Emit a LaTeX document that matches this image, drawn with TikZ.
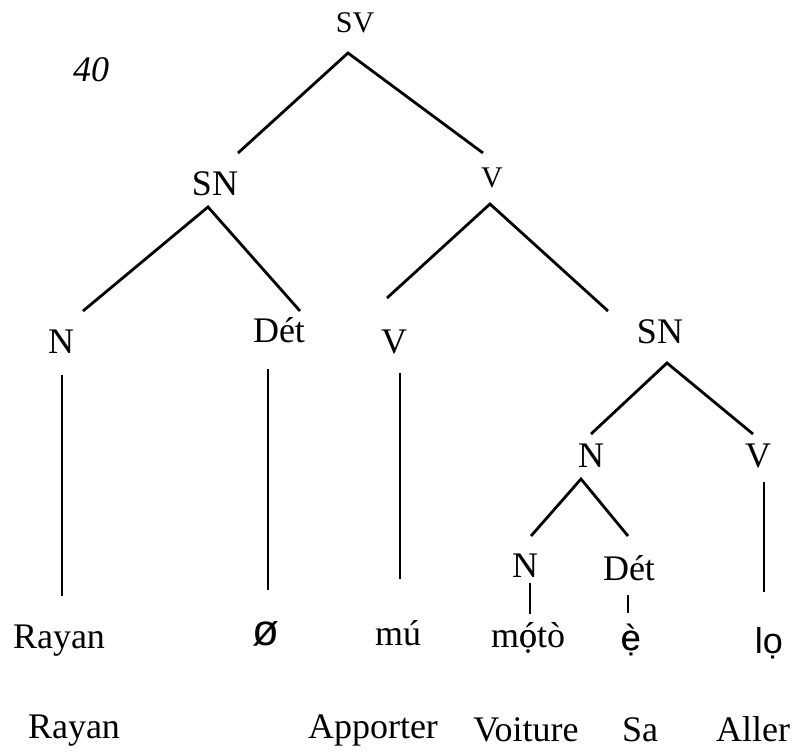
\documentclass[tikz,border=0pt]{standalone}
\usepackage{fontspec}
\setmainfont{Liberation Serif}
\newfontfamily\sansf{Liberation Sans}
\begin{document}
\begin{tikzpicture}[x=1pt,y=-1pt,
  lbl/.style={anchor=base,inner sep=0pt,font=\fontsize{36}{40}\selectfont},
  sml/.style={anchor=base,inner sep=0pt,font=\fontsize{30}{34}\selectfont},
  sns/.style={anchor=base,inner sep=0pt,font=\fontsize{36}{40}\selectfont\sansf},
  edge/.style={line width=2.8pt}]
\useasboundingbox (0,0) rectangle (795,754);
% labels
\node[lbl,font=\fontsize{36}{40}\selectfont\itshape] (num) at (91,82) {40};
\node[sml] (sv) at (355,33) {SV};
\node[lbl] (sn1) at (215,196) {SN};
\node[sml] (v1) at (492,188) {V};
\node[lbl] (n1) at (61,353) {N};
\node[lbl] (det1) at (279,342) {Dét};
\node[lbl] (v2) at (394,353) {V};
\node[lbl] (sn2) at (660,343) {SN};
\node[lbl] (n2) at (591,467) {N};
\node[lbl] (v3) at (758,467) {V};
\node[lbl] (n3) at (525,577) {N};
\node[lbl] (det2) at (629,580) {Dét};
% words
\node[lbl] (w1) at (59,648) {Rayan};
\node[sns,font=\fontsize{44}{48}\selectfont\sansf] (w2) at (266,645) {ø};
\node[lbl] (w3) at (398,645) {mú};
\node[lbl] (w4) at (528,647) {m\ooalign{ó\cr ọ}tò};
\node[sns] (w5) at (631,650) {\ooalign{è\cr ẹ}};
\node[sns] (w6) at (769,653) {lọ};
% glosses
\node[lbl] (g1) at (74,738) {Rayan};
\node[lbl] (g2) at (373,738) {Apporter};
\node[lbl] (g3) at (526,741) {Voiture};
\node[lbl] (g4) at (640,741) {Sa};
\node[lbl] (g5) at (753,741) {Aller};
% connector end points
\coordinate (svA) at (348,53);
\coordinate (sn1T) at (238,153);
\coordinate (v1T) at (483,153);
\coordinate (sn1A) at (208,207);
\coordinate (n1T) at (83,311);
\coordinate (det1T) at (300,311);
\coordinate (v1A) at (490,204);
\coordinate (v2T) at (387,298);
\coordinate (sn2T) at (608,311);
\coordinate (n1B) at (62,375);
\coordinate (w1T) at (62,596);
\coordinate (det1B) at (268,369);
\coordinate (w2T) at (268,590);
\coordinate (v2B) at (400,373);
\coordinate (w3T) at (400,579);
\coordinate (sn2A) at (667,363);
\coordinate (n2T) at (591,434);
\coordinate (v3T) at (753,434);
\coordinate (n2A) at (581,479);
\coordinate (n3T) at (531,536);
\coordinate (det2T) at (628,536);
\coordinate (v3B) at (764,482);
\coordinate (w6T) at (764,592);
\coordinate (n3B) at (530,583);
\coordinate (w4T) at (530,614);
\coordinate (det2B) at (628,595);
\coordinate (w5T) at (628,613);
% connectors
\draw[edge] (sn1T) -- (svA) -- (v1T);
\draw[edge] (n1T) -- (sn1A) -- (det1T);
\draw[edge] (v2T) -- (v1A) -- (sn2T);
\draw[edge] (n2T) -- (sn2A) -- (v3T);
\draw[edge] (n3T) -- (n2A) -- (det2T);
\draw[edge] (n1B) -- (w1T);
\draw[edge] (det1B) -- (w2T);
\draw[edge] (v2B) -- (w3T);
\draw[edge] (v3B) -- (w6T);
\draw[edge] (n3B) -- (w4T);
\draw[edge] (det2B) -- (w5T);
\end{tikzpicture}
\end{document}
